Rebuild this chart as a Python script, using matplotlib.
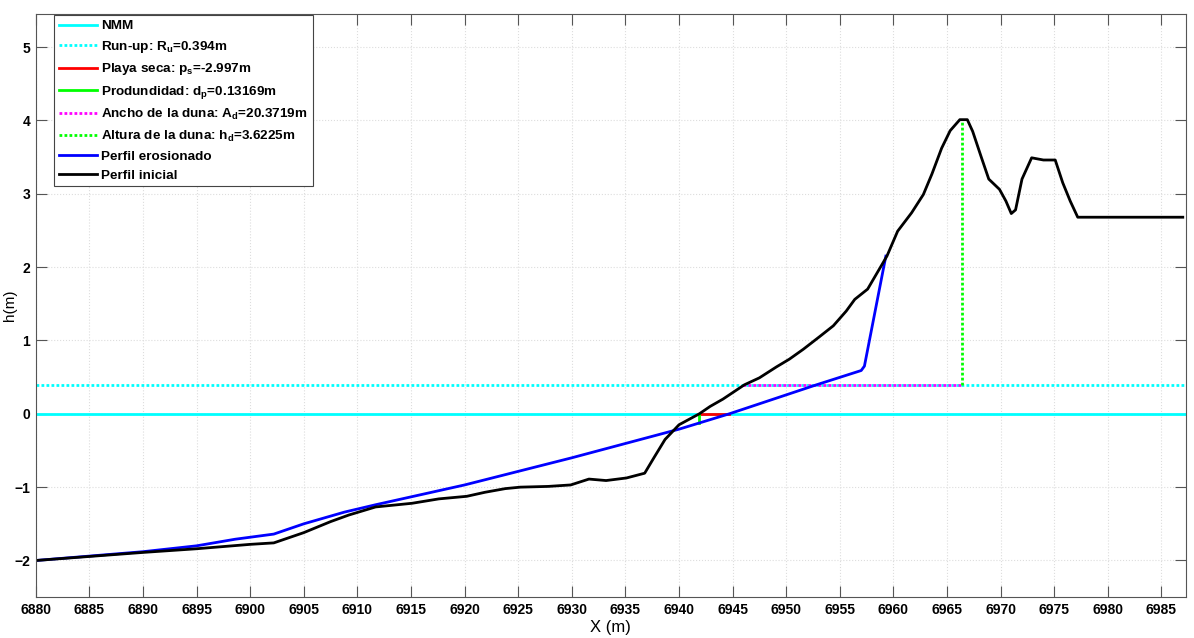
import numpy as np
import matplotlib
matplotlib.use("Agg")
import matplotlib.pyplot as plt

# Initial profile
x_ini = [6880, 6890, 6895, 6900, 6902.2, 6905, 6907.5, 6909.2, 6911.7, 6915.1,
         6917.6, 6920.2, 6921.9, 6923.8, 6925.2, 6927.8, 6929.9, 6931.6, 6933.2,
         6935.1, 6936.8, 6937.7, 6938.7, 6940.0, 6941.9, 6942.9, 6944.1, 6946.1,
         6947.5, 6949.1, 6950.3, 6951.6, 6953.1, 6954.4, 6955.6, 6956.4, 6957.6,
         6958.4, 6959.4, 6960.4, 6961.7, 6962.8, 6963.6, 6964.5, 6965.3, 6966.2,
         6966.9, 6967.4, 6968.2, 6968.9, 6969.9, 6970.5, 6971.0, 6971.4, 6972.0,
         6972.9, 6974.0, 6975.1, 6975.8, 6976.5, 6977.2, 6987.0]
h_ini = [-2.0, -1.89, -1.84, -1.78, -1.76, -1.62, -1.47, -1.38, -1.27, -1.22,
         -1.16, -1.125, -1.07, -1.02, -1.0, -0.99, -0.97, -0.89, -0.91,
         -0.875, -0.81, -0.59, -0.35, -0.15, 0.0, 0.1, 0.2, 0.395,
         0.49, 0.64, 0.745, 0.88, 1.05, 1.2, 1.40, 1.56, 1.70,
         1.90, 2.15, 2.49, 2.74, 2.99, 3.27, 3.62, 3.86, 4.01,
         4.01, 3.85, 3.5, 3.2, 3.06, 2.9, 2.73, 2.78, 3.2,
         3.49, 3.46, 3.46, 3.15, 2.9, 2.68, 2.68]

# Eroded profile
x_ero = [6880, 6890, 6895, 6898.6, 6902.2, 6905, 6908.8, 6911.7, 6920, 6930,
         6940, 6944.7, 6952.8, 6957.0, 6957.3, 6959.3]
h_ero = [-2.0, -1.88, -1.80, -1.71, -1.64, -1.50, -1.34, -1.24, -0.97, -0.60,
         -0.21, 0.0, 0.394, 0.59, 0.65, 2.15]

nmm = 0.0
run_up = 0.394
x_seca = [6941.9, 6944.7]
x_prof = 6941.9
d_p = 0.13169
x_duna = [6946.0, 6966.4]
h_duna = 3.6225

xlim = (6880, 6987.3)
ylim = (-2.5, 5.45)

plt.rcParams['font.family'] = ['Liberation Sans', 'DejaVu Sans']
plt.rcParams['mathtext.fontset'] = 'custom'
plt.rcParams['mathtext.rm'] = 'Liberation Sans:bold'
plt.rcParams['mathtext.bf'] = 'Liberation Sans:bold'
plt.rcParams['mathtext.default'] = 'bf'

fig = plt.figure(figsize=(11.94, 6.38), dpi=100)
ax = fig.add_axes([0.030, 0.064, 0.9633, 0.914])

lw = 2
dots = (0, (1, 0.8))
ax.plot(xlim, [nmm, nmm], color='cyan', lw=lw, label='NMM')
ax.plot(xlim, [run_up, run_up], color='cyan', lw=lw, ls=dots,
        label='Run-up: R$_u$=%gm' % run_up)
ax.plot(x_seca, [nmm, nmm], color='red', lw=lw,
        label='Playa seca: p$_s$=-2.997m')
ax.plot([x_prof, x_prof], [nmm, -d_p], color='lime', lw=lw,
        label='Produndidad: d$_p$=%gm' % d_p)
ax.plot(x_duna, [run_up, run_up], color='magenta', lw=lw, ls=dots,
        label='Ancho de la duna: A$_d$=20.3719m')
ax.plot([x_duna[1], x_duna[1]], [run_up, run_up + h_duna], color='lime', lw=lw, ls=dots,
        label='Altura de la duna: h$_d$=%gm' % h_duna)
ax.plot(x_ero, h_ero, color='blue', lw=lw, label='Perfil erosionado')
ax.plot(x_ini, h_ini, color='black', lw=lw, label='Perfil inicial')

ax.set_xlim(*xlim)
ax.set_ylim(*ylim)
ax.set_xticks(np.arange(6880, 6986, 5))
ax.set_yticks(np.arange(-2, 6, 1))
ax.grid(True, color='#dddddd', ls=':', lw=0.8)
ax.tick_params(direction='in', top=True, right=True, length=8, color='#555555',
               labelsize=10, pad=4)
for lab in ax.get_xticklabels() + ax.get_yticklabels():
    lab.set_fontweight('bold')
for s in ax.spines.values():
    s.set_color('#555555')
ax.set_xlabel('X (m)', fontsize=12, labelpad=2)
ax.set_ylabel('h(m)', fontsize=11)
ax.yaxis.set_label_coords(-0.016, 0.5)

leg = ax.legend(loc='upper left', bbox_to_anchor=(0.016, 0.998),
                prop={'weight': 'bold', 'size': 9.7},
                handlelength=2.8, handletextpad=0.35, fancybox=False, framealpha=1,
                edgecolor='#444444', borderaxespad=0.0, labelspacing=0.48,
                borderpad=0.35)
leg.get_frame().set_linewidth(0.8)

fig.savefig('out.png', dpi=100)
